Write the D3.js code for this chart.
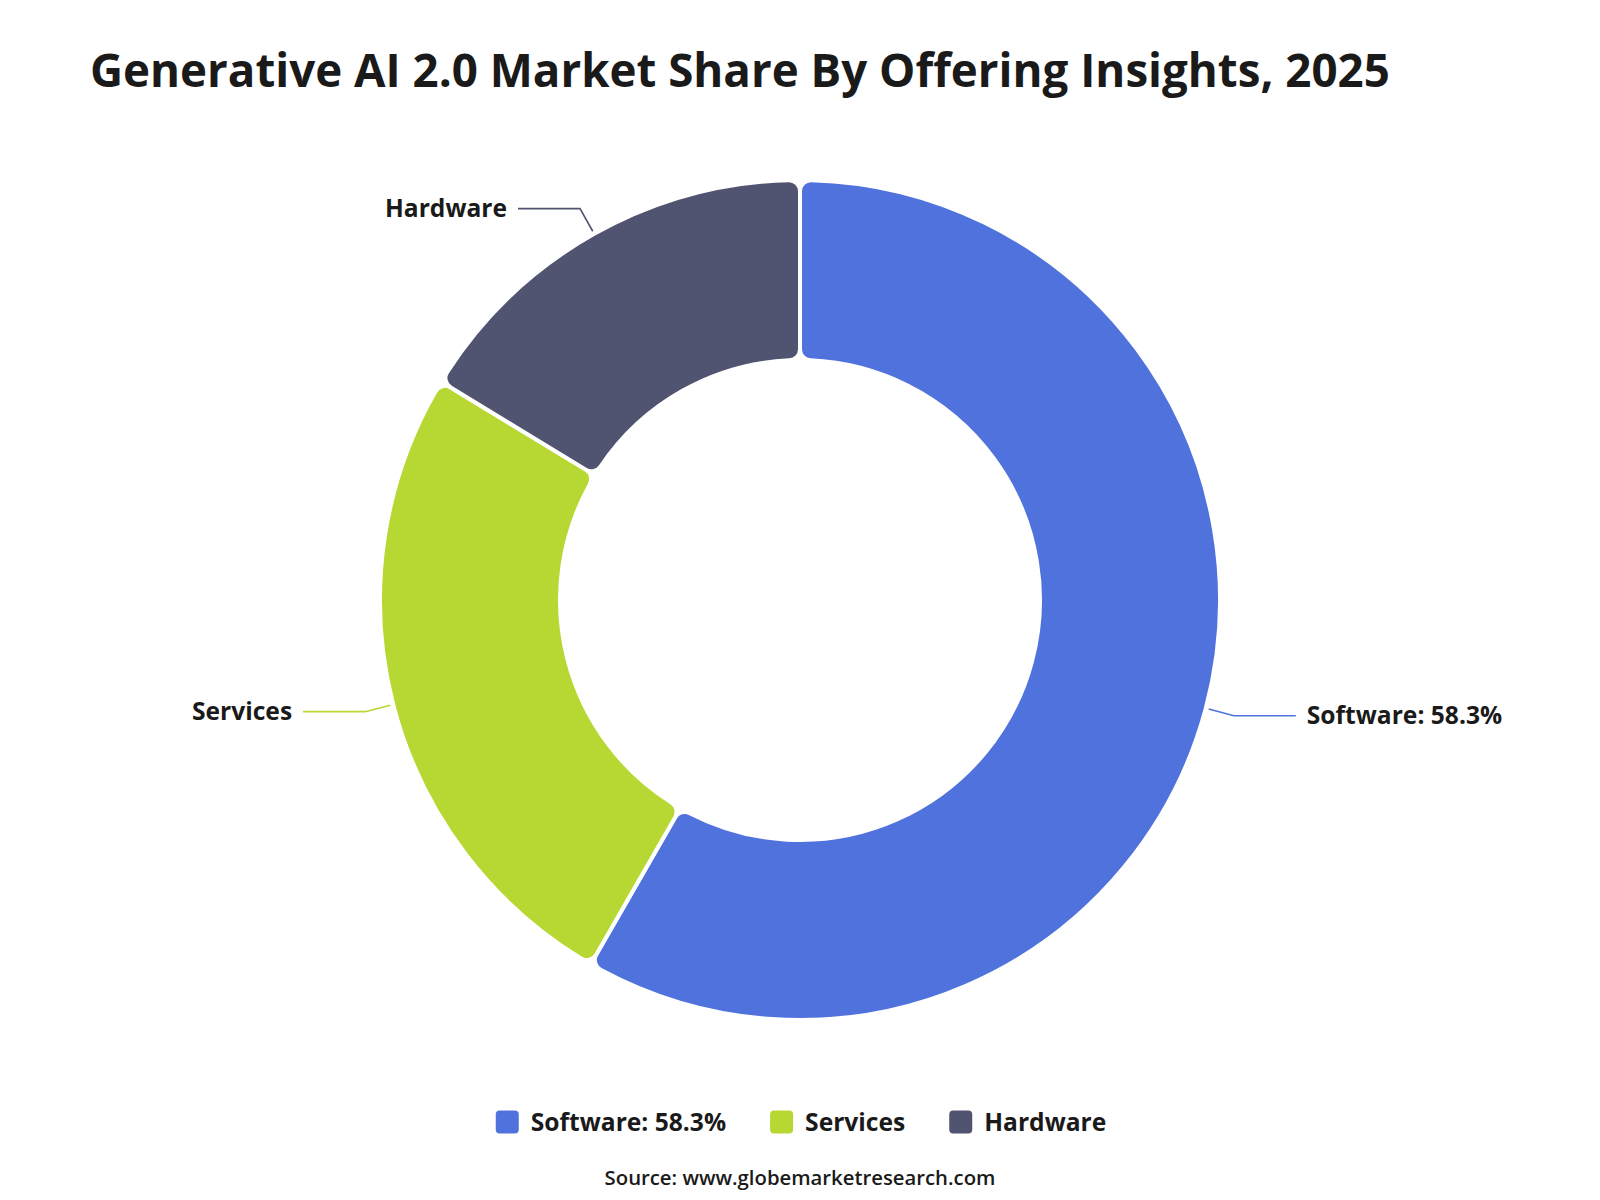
<!DOCTYPE html>
<html>
<head>
<meta charset="utf-8">
<script src="https://cdn.jsdelivr.net/npm/d3@7"></script>
<style>
  html, body { margin: 0; padding: 0; background: #fff; }
  svg text { font-family: "Open Sans", "Noto Sans", sans-serif; fill: #1a1a1a; }
</style>
</head>
<body>
<svg id="chart" width="1600" height="1200"></svg>
<script>
const titleText = "Generative AI 2.0 Market Share By Offering Insights, 2025";
const categories = ["Software", "Services", "Hardware"];
const values = [58.3, 25.4, 16.3];
const labelTexts = ["Software: 58.3%", "Services", "Hardware"];
const colors = ["#5072dd", "#b7d733", "#505470"];
const sourceText = "Source: www.globemarketresearch.com";

const svg = d3.select("#chart");
const cx = 800, cy = 600;
const rOuter = 420, rInner = 240;

function fitText(sel, targetWidth) {
  const fs = parseFloat(sel.attr("font-size"));
  const w = sel.node().getComputedTextLength();
  sel.attr("font-size", (fs * targetWidth / w).toFixed(2));
}

// Title
const title = svg.append("text")
  .attr("x", 90).attr("y", 87)
  .attr("font-size", 46).attr("font-weight", 700)
  .text(titleText);
fitText(title, 1300);

const data = categories.map((c, i) => ({ name: c, value: values[i], label: labelTexts[i], color: colors[i] }));

const pie = d3.pie().value(d => d.value).sort(null).startAngle(0).endAngle(2 * Math.PI);
const arcs = pie(data);
const arc = d3.arc().innerRadius(rInner).outerRadius(rOuter).cornerRadius(11);

const g = svg.append("g").attr("transform", `translate(${cx},${cy})`);
g.selectAll("path.slice").data(arcs).enter().append("path")
  .attr("class", "slice")
  .attr("d", arc)
  .attr("fill", d => d.data.color)
  .attr("stroke", "#fff")
  .attr("stroke-width", 4)
  .attr("stroke-linejoin", "round");

// Leader lines and labels
const r1 = rOuter + 3, r2 = rOuter + 29, hLen = 62;
const labelFs = 24.6;
arcs.forEach(d => {
  const a = (d.startAngle + d.endAngle) / 2;
  const sx = Math.sin(a), sy = -Math.cos(a);
  const p1 = [sx * r1, sy * r1];
  const p2 = [sx * r2, sy * r2];
  const right = sx >= 0;
  const p3 = [p2[0] + (right ? hLen : -hLen), p2[1]];
  g.append("path")
    .attr("d", d3.line()([p1, p2, p3]))
    .attr("fill", "none")
    .attr("stroke", d.data.color)
    .attr("stroke-width", 1.6);
  g.append("text")
    .attr("x", p3[0] + (right ? 11 : -11))
    .attr("y", p3[1])
    .attr("dy", "0.34em")
    .attr("text-anchor", right ? "start" : "end")
    .attr("font-size", labelFs)
    .attr("font-weight", 700)
    .text(d.data.label);
});

// Legend
const legendY = 1122;
const sq = 23, gapText = 12, gapItem = 44, legendFs = 24.6;
const legend = svg.append("g");
let x = 0;
data.forEach(d => {
  const it = legend.append("g");
  it.append("rect").attr("x", 0).attr("y", -sq / 2).attr("width", sq).attr("height", sq)
    .attr("rx", 4).attr("fill", d.color);
  const t = it.append("text").attr("x", sq + gapText).attr("y", 0).attr("dy", "0.36em")
    .attr("font-size", legendFs).attr("font-weight", 700).text(d.label);
  const w = sq + gapText + t.node().getComputedTextLength();
  it.attr("transform", `translate(${x},${legendY})`);
  x += w + gapItem;
});
const totalW = x - gapItem;
legend.attr("transform", `translate(${801 - totalW / 2},0)`);

// Source
const src = svg.append("text")
  .attr("x", 800).attr("y", 1185)
  .attr("text-anchor", "middle")
  .attr("font-size", 20).attr("font-weight", 600)
  .attr("fill", "#222")
  .text(sourceText);
fitText(src, 391);
</script>
</body>
</html>
